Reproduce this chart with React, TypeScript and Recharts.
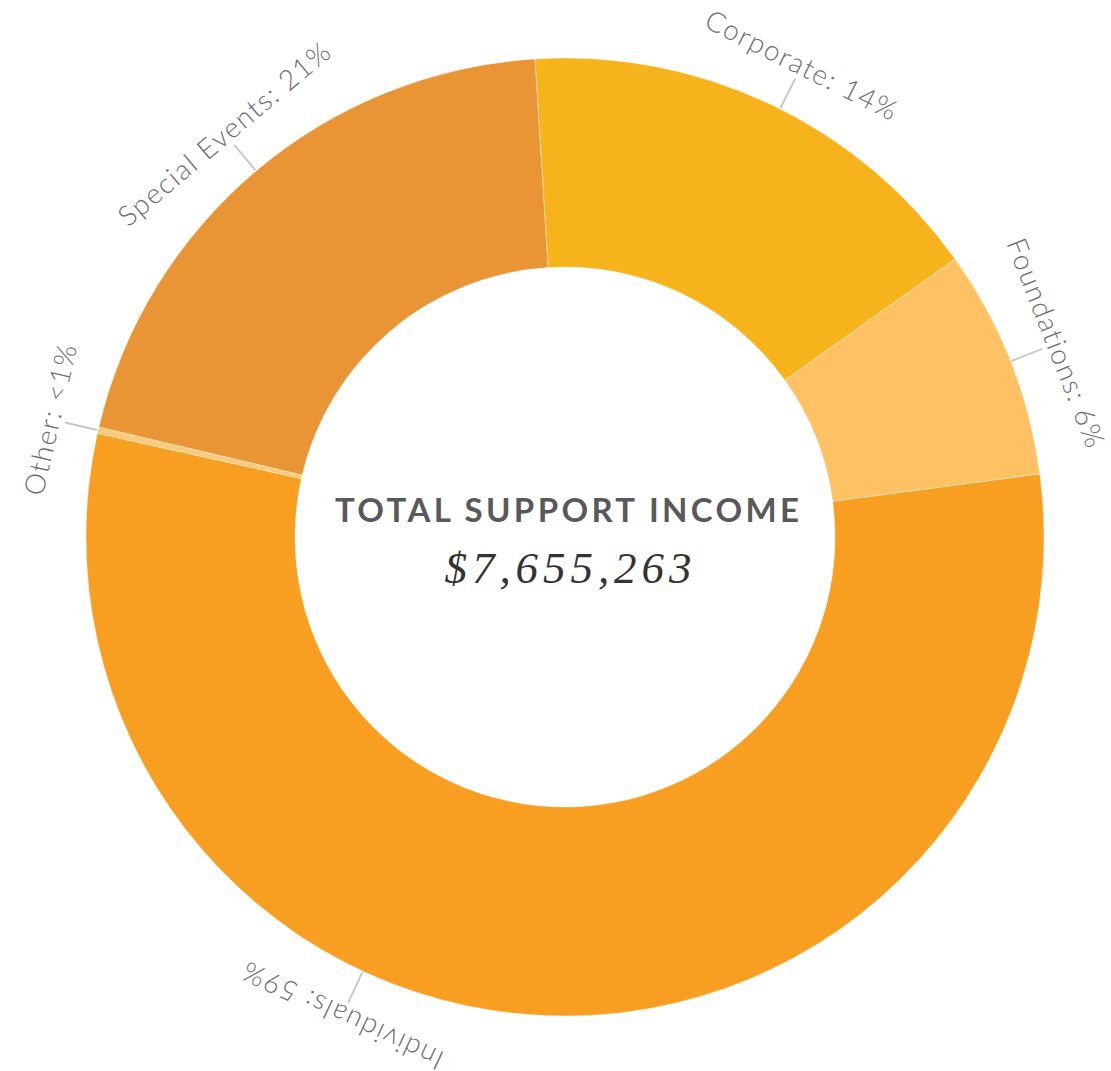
import React from "react";
import { PieChart, Pie, Cell } from "recharts";

// Data
const categories = ["Corporate", "Foundations", "Individuals", "Other", "Special Events"];
const shares = [16.15, 7.75, 55.57, 0.22, 20.31]; // arc share (%) as drawn
const percentLabels = ["14%", "6%", "59%", "<1%", "21%"];
const colors = ["#F7B31B", "#FEC163", "#F89E20", "#FFC978", "#E99536"];
const totalTitle = "TOTAL SUPPORT INCOME";
const totalValue = "$7,655,263";

const data = categories.map((name, i) => ({ name, value: shares[i], pct: percentLabels[i] }));

const W = 1111;
const H = 1071;
const CX = 565;
const CY = 537;
const RAD = Math.PI / 180;

// label nudges (degrees, clockwise) so labels sit where the reference puts them
const LABEL_SHIFT: Record<string, number> = { Corporate: 1.2, Individuals: 22.5 };

const renderLabel = (props: any) => {
  const { cx, cy, midAngle, outerRadius, index } = props;
  const name = categories[index];
  const theta = 90 - midAngle + (LABEL_SHIFT[name] ?? 0);
  const s = Math.sin(theta * RAD);
  const c = Math.cos(theta * RAD);
  const p = (r: number) => [cx + r * s, cy - r * c];
  const [x1, y1] = p(outerRadius + 1);
  const [x2, y2] = p(outerRadius + 34);
  const [tx, ty] = p(outerRadius + 39);
  return (
    <g key={`lbl-${index}`}>
      <line x1={x1} y1={y1} x2={x2} y2={y2} stroke="#C8C8C8" strokeWidth={2} />
      <text
        x={0}
        y={0}
        transform={`translate(${tx},${ty}) rotate(${theta})`}
        textAnchor="middle"
        fill="#6D6E70"
        fontFamily="Lato, 'Open Sans', sans-serif"
        fontWeight={300}
        fontSize={28}
        letterSpacing={1.5}
      >
        {`${name}: ${data[index].pct}`}
      </text>
    </g>
  );
};

export default function App() {
  return (
    <div style={{ position: "relative", width: W, height: H }}>
      <style>{`body{margin:0;overflow:hidden}`}</style>
      <PieChart width={W} height={H} margin={{ top: 0, right: 0, bottom: 0, left: 0 }}>
        <Pie
          data={data}
          dataKey="value"
          nameKey="name"
          cx={CX}
          cy={CY}
          innerRadius={270}
          outerRadius={479}
          startAngle={93.6}
          endAngle={-266.4}
          stroke="#FFFFFF"
          strokeWidth={0.4}
          label={renderLabel}
          labelLine={false}
          isAnimationActive={false}
        >
          {data.map((d, i) => (
            <Cell key={d.name} fill={colors[i]} />
          ))}
        </Pie>
      </PieChart>
      <svg
        width={W}
        height={H}
        style={{ position: "absolute", left: 0, top: 0, pointerEvents: "none" }}
      >
        <text
          x={567}
          y={522}
          textAnchor="middle"
          fill="#58595B"
          fontFamily="Lato, sans-serif"
          fontWeight={700}
          fontSize={33}
          textLength={464}
          lengthAdjust="spacing"
        >
          {totalTitle}
        </text>
        <text
          x={568}
          y={583}
          textAnchor="middle"
          fill="#333333"
          fontFamily="'Liberation Serif', serif"
          fontStyle="italic"
          fontSize={45}
          textLength={247}
          lengthAdjust="spacing"
        >
          {totalValue}
        </text>
      </svg>
    </div>
  );
}
